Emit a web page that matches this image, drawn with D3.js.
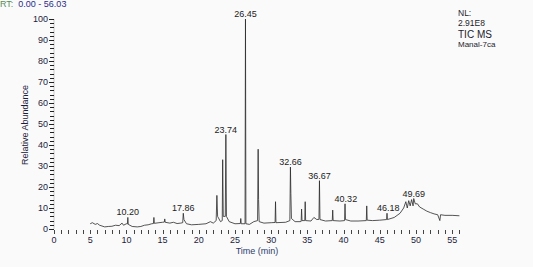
<!DOCTYPE html>
<html>
<head>
<meta charset="utf-8">
<script src="https://cdn.jsdelivr.net/npm/d3@7"></script>
<style>
  body { margin: 0; background: #fafafa; }
  svg { display: block; font-family: "Liberation Sans", Arial, sans-serif; }
</style>
</head>
<body>
<svg width="533" height="267"></svg>
<script>
'use strict';

// chromatogram trace (time in min, relative abundance in %)
const traceTimes = [5.0, 5.3, 5.7, 6.0, 6.3, 7.0, 7.5, 8.0, 8.5, 9.0, 9.4, 9.6, 10.0, 10.14, 10.2, 10.26, 10.8,
    11.5, 12.0, 12.5, 13.0, 13.5, 13.74, 13.8, 13.86, 14.5, 15.0, 15.24, 15.3, 15.36, 16.0, 16.5, 17.0, 17.5,
    17.78, 17.86, 17.95, 18.3, 19.0, 20.0, 21.0, 21.6, 22.0, 22.4, 22.5, 22.6, 23.0, 23.24, 23.3, 23.38,
    23.66, 23.74, 23.82, 24.2, 25.0, 25.74, 25.8, 25.86, 26.39, 26.45, 26.51, 27.0, 27.6, 28.12, 28.2, 28.26,
    28.34, 29.0, 30.0, 30.54, 30.6, 30.66, 32.0, 32.58, 32.66, 32.72, 32.8, 33.3, 34.0, 34.14, 34.2, 34.26,
    34.64, 34.7, 34.76, 35.5, 35.9, 36.3, 36.6, 36.67, 36.74, 37.5, 38.44, 38.5, 38.56, 39.5, 40.14, 40.2,
    40.26, 41.0, 42.0, 43.14, 43.2, 43.26, 44.0, 45.0, 45.94, 46.0, 46.06, 47.0, 47.8, 48.3, 48.6, 48.8,
    49.0, 49.2, 49.4, 49.6, 49.69, 49.9, 50.2, 50.5, 51.0, 51.5, 52.0, 52.5, 53.0, 53.3, 53.4, 54.0, 55.0, 56.0];
const traceValues = [2.5, 3.0, 2.2, 2.6, 1.8, 1.0, 1.2, 1.3, 1.8, 1.6, 2.8, 1.8, 2.5, 2.4, 5.5, 2.2, 1.2,
    1.0, 1.2, 1.8, 2.0, 2.5, 2.6, 5.5, 2.7, 3.0, 3.2, 3.3, 4.8, 3.2, 2.8, 3.2, 2.6, 2.8,
    3.0, 7.5, 4.5, 2.5, 2.0, 2.2, 2.5, 3.5, 2.8, 4, 16, 6, 3.5, 4, 33, 6,
    6, 45, 6, 3.5, 2.5, 2.6, 5, 2.5, 2.5, 100, 2.5, 2.2, 3.5, 4, 38, 14,
    3.5, 2.8, 3, 3.1, 13, 3, 3.2, 4, 29.5, 17, 5, 3.5, 3.5, 3.6, 9.5, 4,
    4, 13, 4, 3.8, 5.5, 4.5, 4.6, 23, 4.5, 3.8, 4.0, 9, 4, 3.8, 4, 12,
    4.5, 3.8, 3.8, 4, 11, 4.2, 4, 4.2, 4.5, 7.5, 4.5, 5.5, 7.5, 10, 13, 10,
    13.5, 11, 14, 11, 14.5, 12, 12, 10.5, 9.5, 8.5, 7.8, 7.2, 6.8, 4, 6.8, 6.5, 6.5, 6.3];

// labelled peaks
const peakTimes = [10.20, 17.86, 23.74, 26.45, 32.66, 36.67, 40.32, 46.18, 49.69];
const peakHeights = [5.5, 7.5, 45, 100, 29.5, 23, 12, 7.5, 14.5];

const xTicks = d3.range(0, 56, 5);
const yTicks = d3.range(0, 101, 10);
const headerRight = ["NL:", "2.91E8", "TIC  MS", "Manal-7ca"];

const svg = d3.select("svg");
const x = d3.scaleLinear().domain([0, 56]).range([54, 459.4]);
const y = d3.scaleLinear().domain([0, 100]).range([229, 19]);

// y axis
svg.append("line")
    .attr("x1", 54).attr("x2", 54)
    .attr("y1", y(100)).attr("y2", y(0))
    .attr("stroke", "#c8c8c8");

svg.selectAll("line.ymin")
    .data(d3.range(0, 101, 2))
    .enter()
    .append("line")
    .attr("class", "ymin")
    .attr("x1", (d) => d % 10 == 0 ? 49 : 50)
    .attr("x2", 54)
    .attr("y1", (d) => Math.round(y(d)) + 0.5)
    .attr("y2", (d) => Math.round(y(d)) + 0.5)
    .attr("stroke", "#222")
    .attr("stroke-width", 1);

svg.selectAll("text.ylab")
    .data(yTicks)
    .enter()
    .append("text")
    .attr("class", "ylab")
    .attr("x", 48)
    .attr("y", (d) => y(d) + 3)
    .attr("text-anchor", "end")
    .attr("font-size", 9)
    .attr("fill", "#1c1c3c")
    .text((d) => d);

svg.append("text")
    .attr("transform", "translate(28,125) rotate(-90)")
    .attr("text-anchor", "middle")
    .attr("font-size", 9)
    .attr("fill", "#1c1c3c")
    .text("Relative Abundance");

// x axis ticks
svg.selectAll("line.xt")
    .data(d3.range(0, 57, 1))
    .enter()
    .append("line")
    .attr("class", "xt")
    .attr("x1", (d) => Math.round(x(d)) + 0.5)
    .attr("x2", (d) => Math.round(x(d)) + 0.5)
    .attr("y1", 230)
    .attr("y2", 234)
    .attr("stroke", "#444");

svg.selectAll("text.xlab")
    .data(xTicks)
    .enter()
    .append("text")
    .attr("class", "xlab")
    .attr("x", (d) => x(d))
    .attr("y", 243)
    .attr("text-anchor", "middle")
    .attr("font-size", 9)
    .attr("fill", "#1c1c3c")
    .text((d) => d);

svg.append("text")
    .attr("x", 257).attr("y", 254)
    .attr("text-anchor", "middle")
    .attr("font-size", 9)
    .attr("fill", "#2c3c6c")
    .text("Time (min)");

// trace
const line = d3.line()
    .x((d, i) => x(traceTimes[i]))
    .y((d) => y(d));

svg.append("path")
    .datum(traceValues)
    .attr("d", line)
    .attr("fill", "none")
    .attr("stroke", "#2a2a2a")
    .attr("stroke-width", 0.8);

// peak labels
svg.selectAll("text.peak")
    .data(peakTimes)
    .enter()
    .append("text")
    .attr("class", "peak")
    .attr("x", (d) => x(d))
    .attr("y", (d, i) => y(peakHeights[i]) - 2)
    .attr("text-anchor", "middle")
    .attr("font-size", 9)
    .attr("fill", "#222")
    .text((d) => d.toFixed(2));

// header
const rt = svg.append("text").attr("x", 0).attr("y", 7).attr("font-size", 9);
rt.append("tspan").attr("fill", "#5a8a5a").text("RT:");
rt.append("tspan").attr("fill", "#2a2a8a").attr("dx", 5).text("0.00 - 56.03");

svg.selectAll("text.hdr")
    .data(headerRight)
    .enter()
    .append("text")
    .attr("class", "hdr")
    .attr("x", 458)
    .attr("y", (d, i) => [16, 26, 37.5, 47][i])
    .attr("font-size", (d, i) => [8.5, 8.5, 10, 8][i])
    .attr("fill", "#1c1c2c")
    .text((d) => d);
</script>
</body>
</html>
